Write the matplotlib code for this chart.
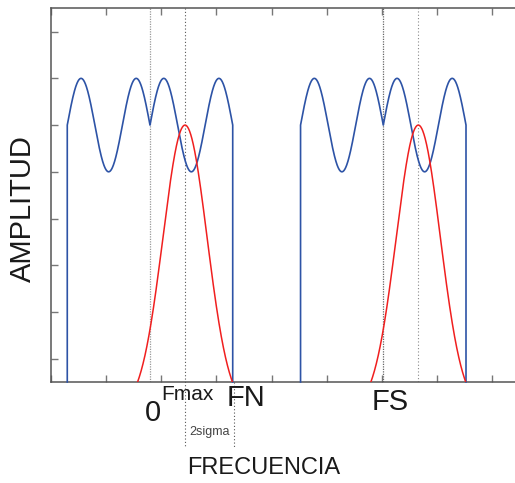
import numpy as np
import matplotlib
matplotlib.use("Agg")
import matplotlib.pyplot as plt

# ---- values (x in tick units, y in tick units) ----
block_centers = [0.0, 4.23]      # 0 and FS
block_half_width = 1.5
ripple_period = 1.0
ripple_level = 5.5
ripple_amp = 1.0
fmax_offset = 0.635
red_peak = 5.5
red_half_support = 0.86
red_sigma = 0.40
fn_pos = 1.52
label_names = ["0", "Fmax", "FN", "FS"]

W, H = 515, 483
fig = plt.figure(figsize=(W / 100, H / 100), dpi=100)
plt.rcParams['font.family'] = ['Liberation Sans', 'DejaVu Sans']

ax_left, ax_right, ax_top, ax_bot = 51, 520, 8.3, 382
ax = fig.add_axes([ax_left / W, 1 - ax_bot / H, (ax_right - ax_left) / W, (ax_bot - ax_top) / H])
x0 = -1.795
px_per_u = 55.15
ax.set_xlim(x0, x0 + (ax_right - ax_left) / px_per_u)
ax.set_ylim(0, 8)

blue = "#2d53a6"
red = "#f01f1f"

for c in block_centers:
    xs = np.linspace(-block_half_width, block_half_width, 801)
    ys = ripple_level + ripple_amp * np.sin(2 * np.pi * np.abs(xs) / ripple_period)
    xx = np.concatenate([[xs[0]], xs, [xs[-1]]]) + c
    yy = np.concatenate([[0], ys, [0]])
    ax.plot(xx, yy, color=blue, lw=1.2, zorder=3, clip_on=False)

    m = c + fmax_offset
    xr = np.linspace(-red_half_support, red_half_support, 401)
    g = np.exp(-0.5 * (xr / red_sigma) ** 2)
    ge = np.exp(-0.5 * (red_half_support / red_sigma) ** 2)
    yr = red_peak * (g - ge) / (1 - ge)
    ax.plot(xr + m, yr, color=red, lw=1.1, zorder=4)

# dotted reference lines
ax.axvline(block_centers[0], color="#9a9a9a", lw=0.9, ls=(0, (1, 1)), zorder=2)
ax.plot([fmax_offset, fmax_offset], [8, -1.4], color="#555555", lw=0.8, ls=(0, (1, 2)), zorder=2, clip_on=False)
ax.plot([fn_pos, fn_pos], [0, -1.4], color="#555555", lw=0.8, ls=(0, (1, 2)), zorder=2, clip_on=False)
ax.axvline(block_centers[1], color="#666666", lw=0.9, ls=(0, (1, 1)), zorder=2)
ax.axvline(block_centers[1] + fmax_offset, color="#888888", lw=0.8, ls=(0, (1, 2)), zorder=2)

# ticks & spines
ax.set_xticks(x0 + np.arange(0, 9))
ax.set_yticks(np.arange(0.5, 8, 1.0))
ax.tick_params(direction="in", length=5, width=1, color="#777777",
               labelbottom=False, labelleft=False, top=True, right=False)
for s in ["left", "top", "bottom"]:
    ax.spines[s].set_color("#555555")
    ax.spines[s].set_linewidth(1.1)
ax.spines["right"].set_visible(False)

def ftext(px, py, s, color="#1a1a1a", **kw):
    fig.text(px / W, 1 - py / H, s, ha="center", va="center", color=color, **kw)

ftext(152.5, 413, label_names[0], fontsize=21)
ftext(187.5, 395, label_names[1], fontsize=15)
ftext(246, 398, label_names[2], fontsize=21)
ftext(390, 402, label_names[3], fontsize=21)
ftext(210, 432, "2sigma", fontsize=9, color="#444444")
ftext(263.5, 468, "FRECUENCIA", fontsize=17)
ftext(23, 209, "AMPLITUD", fontsize=21, rotation=90)

fig.savefig("out.png", dpi=100)
